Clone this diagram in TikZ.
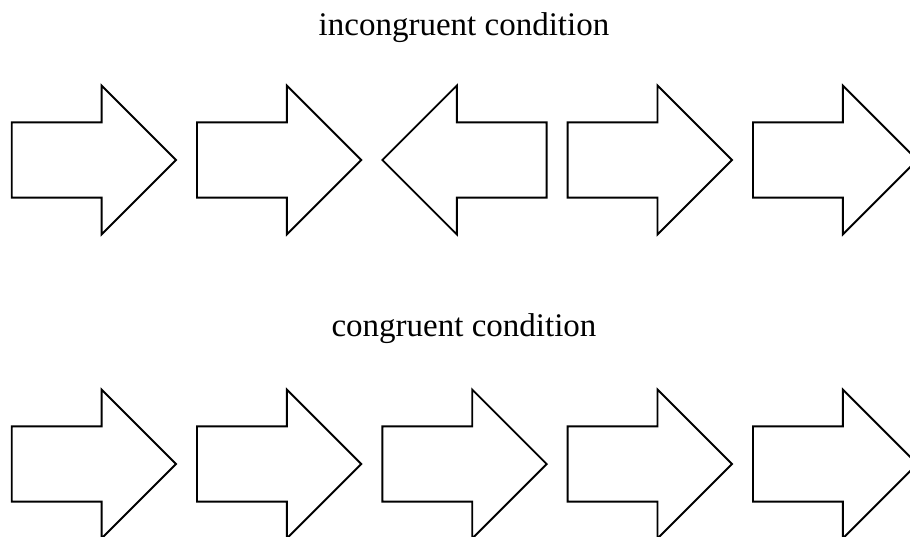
\documentclass[tikz,border=0pt]{standalone}
\usepackage{fontspec}
\setmainfont{Liberation Serif}
\usetikzlibrary{shapes.arrows,positioning}
\tikzset{
  flanker/.style={
    single arrow,
    draw=black, line width=1.9pt,
    fill=white,
    inner xsep=0pt, inner ysep=36.65pt,
    outer sep=0pt,
    single arrow head extend=36.85pt,
    single arrow tip angle=90,
    minimum height=164.3pt
  },
  leftward/.style={flanker, shape border rotate=180},
  caption/.style={font=\fontsize{33}{36}\selectfont, anchor=base, inner sep=0pt}
}

\begin{document}
\begin{tikzpicture}[x=1pt,y=1pt,node distance=21pt]
      \useasboundingbox (0,0) rectangle (910,536);

      \begin{scope}
        \node[caption] (inc) at (464,500) {incongruent condition};
        \node[flanker, anchor=west] (a1) at (11.7,376) {};
        \node[flanker, right=of a1] (a2) {};
        \node[leftward, right=of a2] (a3) {};
        \node[flanker, right=of a3] (a4) {};
        \node[flanker, right=of a4] (a5) {};
      \end{scope}

      \begin{scope}
        \node[caption] (con) at (464,199.3) {congruent condition};
        \node[flanker, anchor=west] (b1) at (11.7,72) {};
        \node[flanker, right=of b1] (b2) {};
        \node[flanker, right=of b2] (b3) {};
        \node[flanker, right=of b3] (b4) {};
        \node[flanker, right=of b4] (b5) {};
      \end{scope}
    \end{tikzpicture}
\end{document}
